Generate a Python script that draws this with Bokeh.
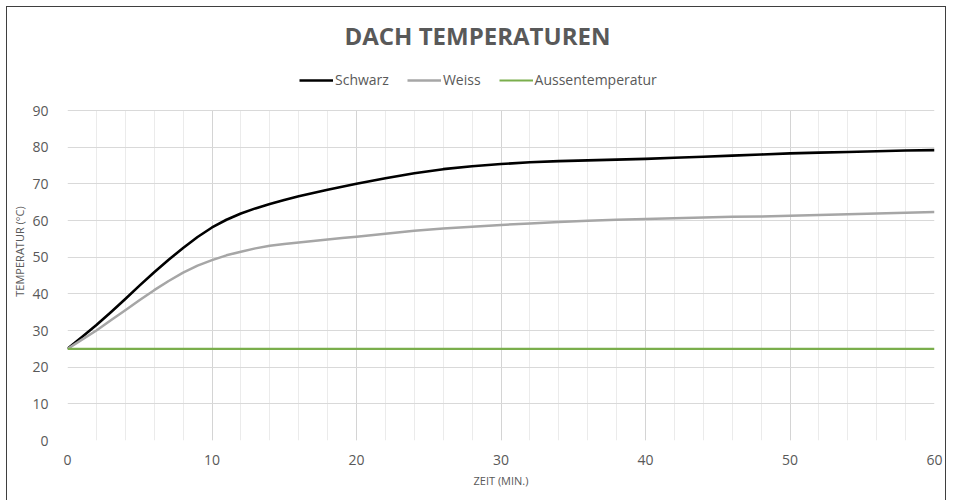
from bokeh.plotting import figure
from bokeh.models import (Legend, LegendItem, SingleIntervalTicker, FixedTicker,
                          Range1d, ColumnDataSource, Grid)
from bokeh.embed import file_html
from bokeh.resources import INLINE

# Data
zeit = [0, 1, 2, 3, 4, 5, 6, 7, 8, 9, 10, 11, 12, 13, 14, 15, 16, 17, 18, 19, 20,
        22, 24, 26, 28, 30, 32, 34, 36, 38, 40, 42, 44, 46, 48, 50, 52, 54, 56, 58, 60]
schwarz = [25, 28.2, 31.5, 35.0, 38.6, 42.3, 45.9, 49.3, 52.5, 55.5, 58.1,
           60.2, 61.9, 63.3, 64.5, 65.6, 66.6, 67.5, 68.4, 69.2, 70.0,
           71.5, 72.9, 74.0, 74.8, 75.4, 75.9, 76.2, 76.4, 76.6, 76.8,
           77.1, 77.4, 77.7, 78.0, 78.3, 78.5, 78.7, 78.9, 79.1, 79.2]
weiss = [25, 27.5, 30.0, 32.8, 35.5, 38.3, 41.0, 43.5, 45.8, 47.7, 49.2,
         50.5, 51.5, 52.4, 53.1, 53.6, 54.0, 54.4, 54.8, 55.2, 55.6,
         56.4, 57.2, 57.8, 58.3, 58.8, 59.2, 59.6, 59.9, 60.2, 60.4,
         60.6, 60.8, 61.0, 61.1, 61.3, 61.5, 61.7, 61.9, 62.1, 62.3]
aussen = [25] * len(zeit)

series_names = ["Schwarz", "Weiss", "Aussentemperatur"]
series_colors = ["#000000", "#a6a6a6", "#7aae4c"]

x_major_ticks = [0, 10, 20, 30, 40, 50, 60]
x_minor_ticks = [t for t in range(0, 61, 2) if t % 10 != 0]
y_ticks = [0, 10, 20, 30, 40, 50, 60, 70, 80, 90]
Y_MAX = 90
Y_TOP = 90 * 378 / 330  # extra room above 90 for the legend row

FONT = "Open Sans"
TXT = "#595959"

p = figure(width=952, height=500, output_backend="svg", toolbar_location=None,
           x_range=Range1d(0, 60), y_range=Range1d(0, Y_TOP),
           title="DACH TEMPERATUREN")
p.min_border_left = 67
p.min_border_right = 18
p.min_border_top = 62
p.min_border_bottom = 60
p.outline_line_color = None
p.border_fill_color = None
p.background_fill_color = "white"
# thin chart frame (left, top, right) like the reference
FRAME = "#3f3f3f"
p.styles = {"background-color": "white",
            "box-shadow": ("inset 6px 0 0 0 #ffffff, inset -6px 0 0 0 #ffffff, "
                           "inset 0 6px 0 0 #ffffff, inset 0 7px 0 0 " + FRAME + ", "
                           "inset 7px 0 0 0 " + FRAME + ", inset -7px 0 0 0 " + FRAME)}

p.title.align = "left"
p.title.offset = 277
p.title.text_font = FONT
p.title.text_font_size = "24px"
p.title.text_font_style = "bold"
p.title.text_color = TXT
p.title.standoff = 22

# grids
p.xaxis.ticker = SingleIntervalTicker(interval=10, num_minor_ticks=5)
p.yaxis.ticker = FixedTicker(ticks=y_ticks)
p.ygrid.grid_line_color = "#d9d9d9"
xg = p.xgrid[0]
if "cross_bounds" in Grid.properties():
    xg.cross_bounds = (0, Y_MAX)
    xg.grid_line_color = "#d4d4d4"
    xg.minor_grid_line_color = "#ebebeb"
else:
    xg.visible = False
    p.segment(x0=x_minor_ticks, x1=x_minor_ticks, y0=[0] * len(x_minor_ticks),
              y1=[Y_MAX] * len(x_minor_ticks), line_color="#ebebeb", line_width=1)
    p.segment(x0=x_major_ticks, x1=x_major_ticks, y0=[0] * len(x_major_ticks),
              y1=[Y_MAX] * len(x_major_ticks), line_color="#d4d4d4", line_width=1)

src = ColumnDataSource(dict(x=zeit, s=schwarz, w=weiss, a=aussen))
r1 = p.line("x", "s", source=src, line_color=series_colors[0], line_width=2.6, line_join="round")
r2 = p.line("x", "w", source=src, line_color=series_colors[1], line_width=2.5, line_join="round")
r3 = p.line("x", "a", source=src, line_color=series_colors[2], line_width=2.2)

legend = Legend(items=[LegendItem(label=n, renderers=[r]) for n, r in zip(series_names, [r1, r2, r3])],
                orientation="horizontal", location=(232, 351),
                label_text_font=FONT, label_text_font_size="14px", label_text_color=TXT,
                glyph_width=34, glyph_height=12, label_standoff=2, spacing=18,
                border_line_color=None, background_fill_alpha=0, padding=2, margin=0)
p.add_layout(legend, "center")

for ax in (p.xaxis[0], p.yaxis[0]):
    ax.axis_line_color = None
    ax.major_tick_line_color = None
    ax.minor_tick_line_color = None
    ax.major_label_text_font = FONT
    ax.major_label_text_font_size = "14px"
    ax.major_label_text_color = TXT
    ax.axis_label_text_font = FONT
    ax.axis_label_text_font_size = "11px"
    ax.axis_label_text_font_style = "normal"
    ax.axis_label_text_color = TXT
p.xaxis.axis_label = "ZEIT (MIN.)"
p.yaxis.axis_label = "TEMPERATUR (°C)"
p.xaxis.major_label_standoff = 8
p.yaxis.major_label_standoff = 13
p.xaxis.axis_label_standoff = 5
p.yaxis.axis_label_standoff = 2

open("out.html", "w").write(file_html(p, INLINE))
